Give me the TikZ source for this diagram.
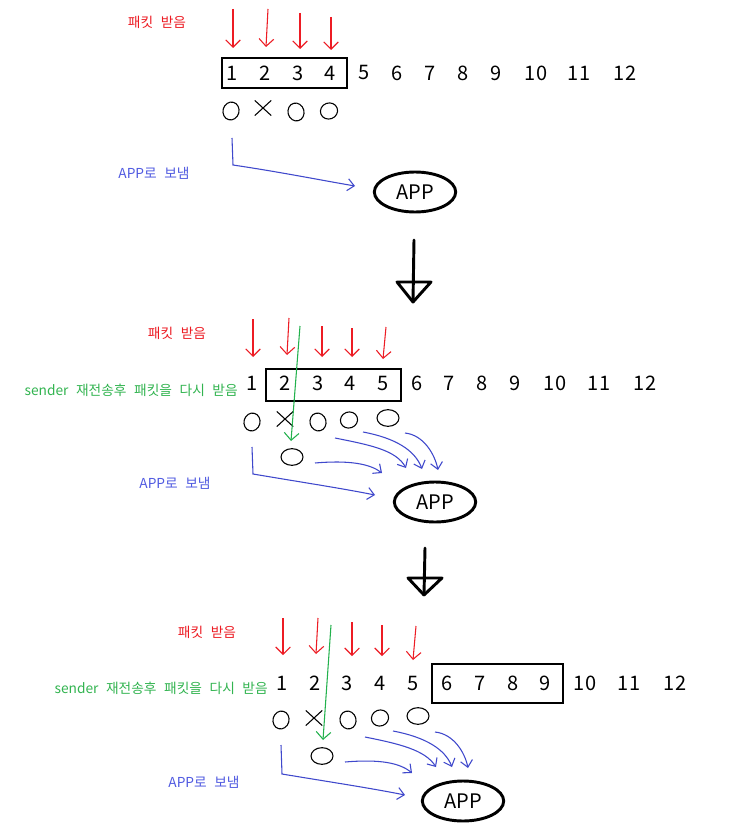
\documentclass[tikz,border=0pt]{standalone}
\usepackage{fontspec}
\setmainfont{Noto Sans CJK KR}
\usetikzlibrary{arrows.meta,shapes.geometric}
\definecolor{pred}{RGB}{237,28,36}
\definecolor{pblue}{RGB}{63,72,204}
\definecolor{pgreen}{RGB}{34,177,76}
\definecolor{tblue}{RGB}{80,90,225}
\definecolor{tgreen}{RGB}{50,180,80}
\newcommand\ksp{\hspace{0.55em}}
\tikzset{
  num/.style={font=\fontsize{15}{18}\selectfont, inner sep=0pt},
  lbl/.style={font=\fontsize{10.3}{12}\selectfont, inner sep=0pt},
  boxl/.style={draw=black, line width=2.2pt},
  redarr/.style={draw=pred, line width=0.8pt, -{Straight Barb[length=5.5pt,width=11pt]}},
  grnarr/.style={draw=pgreen, line width=0.8pt, -{Straight Barb[length=5.5pt,width=11pt]}},
  bluearr/.style={draw=pblue, line width=0.8pt, -{Straight Barb[length=5pt,width=9pt]}},
  omark/.style={draw, ellipse, line width=0.8pt, inner sep=0pt, minimum width=12pt, minimum height=13.5pt},
  blob/.style={draw, ellipse, line width=0.8pt, inner sep=0pt, minimum width=16.5pt, minimum height=12.5pt},
  xmark/.style={inner sep=0pt, minimum width=12.5pt, minimum height=11.5pt,
    path picture={\draw[line width=0.8pt] (path picture bounding box.north west) -- (path picture bounding box.south east)
      (path picture bounding box.south west) -- (path picture bounding box.north east);}},
  appnode/.style={draw, ellipse, line width=2.2pt, minimum width=61pt, minimum height=30pt, inner sep=0pt,
    font=\fontsize{15}{18}\selectfont},
  bigl/.style={line width=2.2pt, line join=round, line cap=round}
}
\begin{document}
\begin{tikzpicture}[x=0.75pt,y=-0.75pt]
\useasboundingbox (0,0) rectangle (754,831);
\fill[white] (0,0) rectangle (754,831);

% ===== Section 1 =====
\node[lbl,text=pred] (t1) at (157,22) {패킷\ksp 받음};
\foreach \i/\x in {1/232,2/265,3/298,4/330,5/364,6/397,7/430,8/463,9/496,10/536,11/579,12/625}
  \node[num] (a\i) at (\x,73) {\i};
\draw[boxl] (222,58) rectangle (347,88);
\foreach \i/\xa/\ya/\xb/\yb in {1/233/9/233/48, 2/268/9/266/47, 3/300/13/300/49, 4/331/17/331/50}
  \draw[redarr] (\xa,\ya) coordinate (ra\i) -- (\xb,\yb) coordinate (rb\i);
\node[omark, rotate=-15] (am1) at (231,111) {};
\node[xmark] (am2) at (263,108) {};
\node[omark, rotate=15] (am3) at (296,112) {};
\node[omark, rotate=-70, minimum width=12pt, minimum height=13pt] (am4) at (329,111) {};
\node[lbl,text=tblue] (tb1) at (154,173) {APP로\ksp 보냄};
\node[appnode] (app1) at (415,192) {APP};
\coordinate (la1) at (232,138);
\coordinate (lb1) at (233,165);
\coordinate (lc1) at (355,186);
\draw[bluearr] (la1) -- (lb1) .. controls (280,172) and (320,180) .. (lc1);
% big arrow 1
\coordinate (ba1) at (414,240);
\coordinate (bb1) at (413,302);
\coordinate (bl1) at (397,282);
\coordinate (br1) at (431,282);
\draw[bigl] (ba1) -- (bb1);
\draw[bigl] (bl1) -- (br1) -- (bb1) -- cycle;

% ===== Section 2 =====
\node[lbl,text=pred] (t2) at (177,333) {패킷\ksp 받음};
\foreach \i/\x in {1/252,2/285,3/318,4/350,5/383,6/417,7/449,8/482,9/515,10/555,11/599,12/645}
  \node[num] (b\i) at (\x,383) {\i};
\draw[boxl] (266,369) rectangle (401,401);
\foreach \i/\xa/\ya/\xb/\yb in {1/253/319/253/357, 2/289/318/287/355, 3/322/326/322/357, 4/352/328/352/357, 5/386/327/383/359}
  \draw[redarr] (\xa,\ya) coordinate (sa\i) -- (\xb,\yb) coordinate (sb\i);
\node[lbl,text=tgreen,anchor=east] (g2) at (238,390) {sender\ksp 재전송후\ksp 패킷을\ksp 다시\ksp 받음};
\node[omark, rotate=-15] (bm1) at (252,422) {};
\node[xmark] (bm2) at (285,419) {};
\node[omark, rotate=15] (bm3) at (318,422) {};
\node[omark, rotate=-70, minimum width=12pt, minimum height=13pt] (bm4) at (349,420) {};
\node[blob] (bm5) at (388,418) {};
\node[blob] (bm6) at (292,457) {};
\coordinate (ga2) at (300,326);
\coordinate (gb2) at (291,441);
\draw[grnarr] (ga2) -- (gb2);
\draw[bluearr] (315,463) coordinate (p2a) .. controls (350,460) and (370,464) .. (382,473) coordinate (q2a);
\draw[bluearr] (335,438) coordinate (p2b) .. controls (370,445) and (396,450) .. (406,468) coordinate (q2b);
\draw[bluearr] (363,432) coordinate (p2c) .. controls (395,438) and (415,450) .. (422,469) coordinate (q2c);
\draw[bluearr] (405,433) coordinate (p2d) .. controls (424,435) and (435,455) .. (438,470) coordinate (q2d);
\node[lbl,text=tblue] (tb2) at (175,483) {APP로\ksp 보냄};
\node[appnode] (app2) at (435,502) {APP};
\coordinate (la2) at (252,447);
\coordinate (lb2) at (253,474);
\coordinate (lc2) at (375,495);
\draw[bluearr] (la2) -- (lb2) .. controls (300,482) and (340,488) .. (lc2);
% big arrow 2
\coordinate (ba2) at (425,548);
\coordinate (bb2) at (424,595);
\coordinate (bl2) at (408,578);
\coordinate (br2) at (442,578);
\draw[bigl] (ba2) -- (bb2);
\draw[bigl] (bl2) -- (br2) -- (bb2) -- cycle;

% ===== Section 3 =====
\node[lbl,text=pred] (t3) at (207,632) {패킷\ksp 받음};
\foreach \i/\x in {1/282,2/315,3/347,4/380,5/413,6/447,7/480,8/513,9/545,10/585,11/629,12/675}
  \node[num] (c\i) at (\x,683) {\i};
\draw[boxl] (432,664) rectangle (563,703);
\foreach \i/\xa/\ya/\xb/\yb in {1/283/618/283/655, 2/318/618/316/654, 3/352/622/352/656, 4/382/625/382/656, 5/416/626/413/660}
  \draw[redarr] (\xa,\ya) coordinate (ua\i) -- (\xb,\yb) coordinate (ub\i);
\node[lbl,text=tgreen,anchor=east] (g3) at (268,688) {sender\ksp 재전송후\ksp 패킷을\ksp 다시\ksp 받음};
\node[omark, rotate=-15] (cm1) at (281,720) {};
\node[xmark] (cm2) at (314,718) {};
\node[omark, rotate=15] (cm3) at (348,720) {};
\node[omark, rotate=-70, minimum width=12pt, minimum height=13pt] (cm4) at (380,718) {};
\node[blob] (cm5) at (418,716) {};
\node[blob] (cm6) at (322,756) {};
\coordinate (ga3) at (331,625);
\coordinate (gb3) at (323,740);
\draw[grnarr] (ga3) -- (gb3);
\draw[bluearr] (345,762) coordinate (p3a) .. controls (380,759) and (400,763) .. (412,773) coordinate (q3a);
\draw[bluearr] (365,737) coordinate (p3b) .. controls (400,744) and (425,750) .. (436,767) coordinate (q3b);
\draw[bluearr] (393,731) coordinate (p3c) .. controls (425,737) and (445,749) .. (452,767) coordinate (q3c);
\draw[bluearr] (435,732) coordinate (p3d) .. controls (454,734) and (465,753) .. (468,768) coordinate (q3d);
\node[lbl,text=tblue] (tb3) at (204,782) {APP로\ksp 보냄};
\node[appnode] (app3) at (463,801) {APP};
\coordinate (la3) at (281,745);
\coordinate (lb3) at (282,774);
\coordinate (lc3) at (405,795);
\draw[bluearr] (la3) -- (lb3) .. controls (330,782) and (370,788) .. (lc3);
\end{tikzpicture}
\end{document}
